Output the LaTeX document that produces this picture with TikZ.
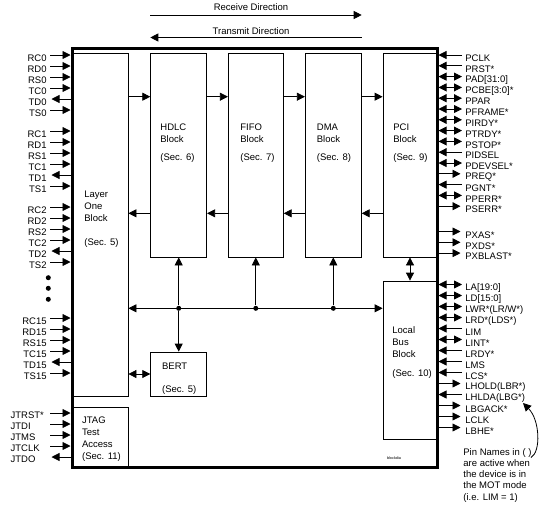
\documentclass[tikz,border=0pt]{standalone}
\usepackage{fontspec}
\setmainfont{Liberation Sans}
\usetikzlibrary{arrows.meta}

\tikzset{
  blk/.style={draw, line width=0.8pt, inner sep=0pt},
  txt/.style={align=left, inner sep=0pt, anchor=north west},
  pinl/.style={inner xsep=3pt, inner ysep=1pt},
  pinin/.style={->},
  pinout/.style={<-, shorten <=1.5pt},
  pinio/.style={<->},
  junction/.style={circle, fill, inner sep=0pt, minimum size=5pt},
}

\begin{document}
\begin{tikzpicture}[x=1pt, y=-1pt, line width=0.8pt,
    >={Triangle[length=8pt,width=8pt]},
    font=\fontsize{9.5}{12}\selectfont]
  \useasboundingbox (0,0) rectangle (545,509);

  % Chip outline
  \node[draw, line width=3pt, inner sep=0pt, minimum width=365pt, minimum height=419pt] (outer) at (254.5,257.5) {};

  % Blocks
  \node[blk, minimum width=56pt, minimum height=343pt] (layer) at (100,224.5) {};
  \node[blk, minimum width=56pt, minimum height=204pt] (hdlc) at (178.7,155) {};
  \node[blk, minimum width=55pt, minimum height=204pt] (fifo) at (255.8,155) {};
  \node[blk, minimum width=56pt, minimum height=204pt] (dma) at (333.3,155) {};
  \node[blk, minimum width=54pt, minimum height=204pt] (pci) at (410,155) {};
  \node[blk, minimum width=54pt, minimum height=158pt] (local) at (410,360) {};
  \node[blk, minimum width=56pt, minimum height=44pt] (bert) at (178.7,374) {};
  \node[blk, minimum width=56pt, minimum height=60pt] (jtag) at (100,437) {};

  % Block texts
  \node[txt] (layertxt) at (84,190.5) {Layer\\One\\Block\\[12pt](Sec. 5)};
  \node[txt] (hdlctxt) at (160,123.5) {HDLC\\Block\\[6pt](Sec. 6)};
  \node[txt] (fifotxt) at (240,123.5) {FIFO\\Block\\[6pt](Sec. 7)};
  \node[txt] (dmatxt) at (316.5,123.5) {DMA\\Block\\[6pt](Sec. 8)};
  \node[txt] (pcitxt) at (393,123.5) {PCI\\Block\\[6pt](Sec. 9)};
  \node[txt] (localtxt) at (392,326.5) {Local\\Bus\\Block\\[7pt](Sec. 10)};
  \node[txt] (berttxt) at (161.7,363) {BERT\\[11pt](Sec. 5)};
  \node[txt] (jtagtxt) at (81.7,416.5) {JTAG\\Test\\Access\\(Sec. 11)};
  \node[font=\fontsize{3.8}{4}\selectfont] (dianame) at (394,458) {blockdia};

  % Direction arrows
  \node (rxlbl) at (251,7.6) {Receive Direction};
  \node (txlbl) at (251,31) {Transmit Direction};
  \coordinate (rxrule) at (0,15);
  \coordinate (txrule) at (0,37.5);
  \draw[->] (hdlc.west |- rxrule) -- (dma.east |- rxrule);
  \draw[<-] (hdlc.west |- txrule) -- (dma.east |- txrule);

  % Data path between blocks
  \coordinate (rxrow) at (0,96.7);
  \coordinate (txrow) at (0,213.3);
  \foreach \a/\b in {layer/hdlc, hdlc/fifo, fifo/dma, dma/pci} {
    \draw[->] (\a.east |- rxrow) -- (\b.west |- rxrow);
    \draw[<-] (\a.east |- txrow) -- (\b.west |- txrow);
  }

  % Internal bus
  \coordinate (busrow) at (0,308.3);
  \draw[<->] (layer.east |- busrow) -- (local.west |- busrow);
  \foreach \blkname [count=\i] in {hdlc, fifo, dma} {
    \node[junction] (bus\i) at (\blkname.south |- busrow) {};
    \draw[->] (bus\i) -- (\blkname.south);
  }
  \draw[->] (bus1) -- (bert.north);
  \draw[<->] (layer.east |- bert.west) -- (bert.west);
  \draw[<->] (pci.south) -- (local.north);

  % Left pins
  \foreach \ypos/\lbl/\kind [count=\i] in {
      55/RC0/pinin, 66/RD0/pinin, 77/RS0/pinin, 88/TC0/pinin, 99/TD0/pinout, 110/TS0/pinin,
      131/RC1/pinin, 142/RD1/pinin, 153/RS1/pinin, 164/TC1/pinin, 175/TD1/pinout, 186/TS1/pinin,
      207/RC2/pinin, 218/RD2/pinin, 229/RS2/pinin, 240/TC2/pinin, 251/TD2/pinout, 262/TS2/pinin,
      318/RC15/pinin, 329/RD15/pinin, 340/RS15/pinin, 351/TC15/pinin, 362/TD15/pinout, 373/TS15/pinin} {
    \node[pinl, anchor=east] (lp\i) at (50,{\ypos+3.5}) {\lbl};
    \draw[\kind] (lp\i.east |- 0,\ypos) -- (outer.west |- 0,\ypos);
  }
  \foreach \ypos [count=\i] in {277.7, 288.3, 299.3}
    \node[junction] (more\i) at (48.3,\ypos) {};

  % JTAG pins
  \foreach \ypos/\lbl/\kind [count=\i] in {
      413/JTRST*/pinin, 424/JTDI/pinin, 435/JTMS/pinin, 446/JTCLK/pinin, 457/JTDO/pinout} {
    \node[pinl, anchor=east, text width=36pt, align=left] (jp\i) at (50,{\ypos+2.5}) {\lbl};
    \draw[\kind] (jp\i.east |- 0,\ypos) -- (outer.west |- 0,\ypos);
  }

  % Right pins
  \foreach \ypos/\lbl/\kind [count=\i] in {
      55/PCLK/pinin, 65.8/PRST*/pinin, 76.6/PAD[31:0]/pinio, 87.4/PCBE[3:0]*/pinio,
      98.2/PPAR/pinio, 109/PFRAME*/pinio, 119.8/PIRDY*/pinio, 130.6/PTRDY*/pinio,
      141.4/PSTOP*/pinio, 152.2/PIDSEL/pinin, 163/PDEVSEL*/pinio, 173.8/PREQ*/pinout,
      184.6/PGNT*/pinin, 195.4/PPERR*/pinio, 206.2/PSERR*/pinout,
      231.5/PXAS*/pinout, 242.3/PXDS*/pinout, 253.1/PXBLAST*/pinout,
      284.5/LA[19:0]/pinio, 295.5/LD[15:0]/pinio, 306.5/{LWR*(LR/W*)}/pinio,
      317.5/LRD*(LDS*)/pinio, 328.5/LIM/pinin, 339.5/LINT*/pinio, 350.5/LRDY*/pinin,
      361.5/LMS/pinin, 372.5/LCS*/pinin, 383.5/LHOLD(LBR*)/pinout, 394.5/LHLDA(LBG*)/pinin,
      405.5/LBGACK*/pinout, 416.5/LCLK/pinout, 427.5/LBHE*/pinout} {
    \node[pinl, anchor=west] (rp\i) at (462,{\ypos+3.5}) {\lbl};
    \draw[\kind] (rp\i.west |- 0,\ypos) -- (outer.east |- 0,\ypos);
  }

  % Note on pin names
  \node[txt, font=\fontsize{9.5}{11.2}\selectfont] (note) at (463,448) {Pin Names in ( )\\are active when\\the device is in\\the MOT mode\\(i.e. LIM = 1)};
  \coordinate (notetail) at (531,457.5);
  \coordinate (notehead) at (523,403);
  \draw[->] (notetail) .. controls (541,452) and (540,420) .. (notehead);

\end{tikzpicture}
\end{document}
